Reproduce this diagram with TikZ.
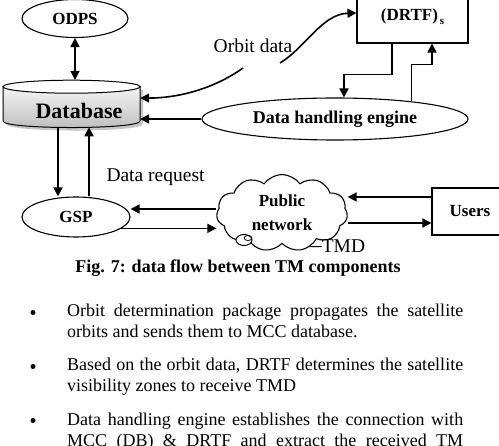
\documentclass[tikz,border=0pt]{standalone}
\usepackage{fontspec}
\setmainfont{Liberation Serif}
\usetikzlibrary{shapes.geometric,shapes.symbols,arrows.meta}
\begin{document}
\begin{tikzpicture}[x=1pt,y=-1pt,
  bl/.style={font=\bfseries\fontsize{17}{20}\selectfont},
  ell/.style={ellipse, draw, line width=1.1pt, inner sep=0pt, bl},
  boxnode/.style={rectangle, draw, line width=1.1pt, inner sep=0pt, bl},
  conn/.style={line width=1.6pt},
  arr/.style={conn, -{Triangle[length=9pt,width=9pt]}},
  darr/.style={conn, {Triangle[length=9pt,width=9pt]}-{Triangle[length=9pt,width=9pt]}},
  lab/.style={font=\fontsize{19.5}{22}\selectfont, inner sep=0pt},
  body/.style={font=\fontsize{18}{21}\selectfont, text width=396pt, align=justify, inner sep=0pt, anchor=north west},
  dot/.style={circle, fill, inner sep=0pt, minimum size=5pt}
]
\useasboundingbox (0,0) rectangle (499,446);
\fill[white] (0,0) rectangle (499,446);

% database cylinder
\path[fill=black!22] (6,90) -- (6,124) .. controls (6,132.7) and (143,132.7) .. (143,124) -- (143,90) -- cycle;
\path[draw, line width=1pt, top color=gray!8, bottom color=gray!52] (3,86.7) -- (3,121) .. controls (3,129.7) and (140,129.7) .. (140,121) -- (140,86.7) -- cycle;
\draw[line width=1pt, fill=white] (71.5,86.7) ellipse [x radius=68.5, y radius=6.5];
\node[minimum width=137pt, minimum height=47pt, inner sep=0pt] (db) at (71.5,103.6) {};
\node[font=\bfseries\fontsize{22}{24}\selectfont, inner sep=0pt] (dbt) at (79,110.5) {Database};

% nodes
\node[ell, minimum width=106pt, minimum height=38pt] (odps) at (75,18.5) {ODPS};
\node[boxnode, minimum width=111pt, minimum height=53pt] (drtf) at (412.5,16.5) {(DRTF)\raisebox{-4pt}{\fontsize{11}{11}\selectfont\,s}};
\node[ell, minimum width=266pt, minimum height=42pt, font=\bfseries\fontsize{18}{20}\selectfont] (dh) at (335,119) {Data handling engine};
\node[ell, minimum width=108pt, minimum height=40pt] (gsp) at (76,217) {GSP};
\node[boxnode, minimum width=76pt, minimum height=47pt] (users) at (470,211.5) {Users};
\node[cloud, draw, line width=1.1pt, cloud puffs=11, cloud puff arc=110, aspect=1.7,
      minimum width=131pt, minimum height=77pt, inner sep=0pt, align=center,
      font=\bfseries\fontsize{17}{24}\selectfont] (net) at (282,213) {Public\\network};
\draw[line width=1pt, fill=white] (244,240) ellipse [x radius=8, y radius=5.5];
\draw[line width=0.8pt] (248,238) ellipse [x radius=4, y radius=2.5];

% labels
\node[lab, anchor=base] (orb) at (253,53) {Orbit data};
\node[lab, anchor=base] (dreq) at (155.5,182) {Data request};
\node[lab, anchor=base] (tmd) at (343.5,253) {TMD};
\node[font=\bfseries\fontsize{18}{20}\selectfont, inner sep=0pt, anchor=base] (cap) at (238,273) {Fig. 7: data flow between TM components};

% connectors
\draw[darr] (odps.south) -- (odps.south |- db.north);
\coordinate (oa) at (243,68);
\coordinate (ob) at (280,63);
\draw[arr] (oa) .. controls (215,88) and (180,98) .. ([yshift=5.5pt]db.east);
\draw[arr] (ob) .. controls (305,48) and (322,14) .. ([yshift=3.5pt]drtf.west);
\draw[arr] ([xshift=-20.5pt]drtf.south) -- ++(0,31) -| ([xshift=9pt]dh.north);
\draw[arr] (dh.13) -- ++(0,-37) -| ([xshift=19.5pt]drtf.south);
\draw[arr] (dh.west) -- (dh.west -| db.east);
\draw[arr] ([xshift=-13.5pt]db.south) -- ([xshift=-13.5pt]db.south |- gsp.north);
\draw[arr] ([xshift=13pt]gsp.north) -- ([xshift=13pt]gsp.north |- db.south);
\draw[arr] ([yshift=8pt]gsp.east -| net.west) -- ([yshift=8pt]gsp.east);
\draw[arr] (gsp.-14) -- (gsp.-14 -| net.west);
\draw[arr] ([yshift=14.5pt]users.west) -- ([yshift=14.5pt]users.west -| net.east);
\draw[arr] ([yshift=-11.5pt]users.west -| net.east) -- ([yshift=-11.5pt]users.west);
\draw[line width=0.8pt] (net.-50) -- (tmd.west);

% bullet text
\node[dot] (b1) at (33,312.5) {};
\node[dot] (b2) at (33,366.5) {};
\node[dot] (b3) at (33,420.5) {};
\node[body] (p1) at (67,301.3) {\strut Orbit determination package propagates the satellite\linebreak orbits and sends them to MCC database.};
\node[body] (p2) at (67,356) {\strut Based on the orbit data, DRTF determines the satellite\linebreak visibility zones to receive TMD};
\node[body] (p3) at (67,410.3) {\strut Data handling engine establishes the connection with\linebreak MCC (DB) \& DRTF and extract the received TM\linebreak};
\end{tikzpicture}
\end{document}
